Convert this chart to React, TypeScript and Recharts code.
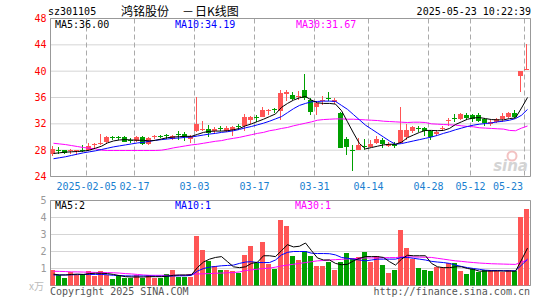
import React from 'react';
import { ComposedChart, Bar, Line, XAxis, YAxis, CartesianGrid, ReferenceArea } from 'recharts';

// trading days shown (2025)
const dates = [
  '01-20', '01-21', '01-22', '01-23', '01-24', '01-27',
  '02-05', '02-06', '02-07', '02-10', '02-11', '02-12', '02-13', '02-14', '02-17', '02-18', '02-19', '02-20',
  '02-21', '02-24', '02-25', '02-26', '02-27', '02-28',
  '03-03', '03-04', '03-05', '03-06', '03-07', '03-10', '03-11', '03-12', '03-13', '03-14', '03-17', '03-18',
  '03-19', '03-20', '03-21', '03-24', '03-25', '03-26', '03-27', '03-28', '03-31',
  '04-01', '04-02', '04-03', '04-07', '04-08', '04-09', '04-10', '04-11', '04-14', '04-15', '04-16', '04-17',
  '04-18', '04-21', '04-22', '04-23', '04-24', '04-25', '04-28', '04-29', '04-30',
  '05-06', '05-07', '05-08', '05-09', '05-12', '05-13', '05-14', '05-15', '05-16', '05-19', '05-20', '05-21',
  '05-22', '05-23',
];

const open = [
  27.45, 28.05, 27.95, 27.8, 27.85, 28.0, 28.1, 28.9, 29.0, 29.2,
  29.95, 29.95, 30.05, 29.55, 29.35, 30.05, 28.95, 30.1, 30.15, 30.25,
  29.7, 30.45, 30.45, 29.75, 30.85, 31.15, 31.25, 30.85, 31.3, 30.95,
  31.0, 31.65, 31.6, 32.6, 33.05, 33.1, 34.05, 34.2, 33.9, 36.5,
  36.4, 36.15, 37.15, 35.55, 34.6, 35.55, 35.85, 35.25, 33.7, 29.7,
  28.1, 28.05, 28.6, 28.55, 29.05, 29.55, 28.65, 28.95, 29.05, 29.95,
  30.85, 31.3, 31.35, 30.85, 30.5, 31.3, 32.45, 32.9, 32.8, 33.3,
  33.35, 33.35, 32.7, 32.0, 32.35, 32.7, 33.1, 33.6, 39.33, 40.2,
];
const close = [
  28.25, 27.95, 27.6, 28.0, 28.0, 27.9, 28.7, 29.0, 29.1, 29.95,
  29.85, 29.9, 29.3, 29.5, 30.05, 29.0, 29.85, 30.2, 30.05, 30.15,
  30.15, 30.35, 30.05, 30.2, 31.95, 31.25, 30.6, 31.2, 31.2, 31.35,
  31.45, 31.55, 33.0, 33.05, 32.95, 34.1, 34.15, 34.1, 36.65, 36.9,
  35.75, 36.25, 35.9, 33.8, 35.2, 35.65, 35.75, 35.55, 28.3, 28.45,
  28.0, 28.8, 28.55, 28.95, 29.75, 28.95, 28.95, 28.7, 31.0, 31.1,
  31.45, 31.2, 30.85, 30.0, 30.75, 31.4, 32.55, 32.8, 33.5, 32.85,
  32.8, 32.5, 32.1, 32.35, 32.7, 33.2, 33.7, 33.1, 39.95, 40.3,
];
const high = [
  28.6, 28.45, 28.0, 28.15, 28.1, 28.85, 29.1, 29.1, 30.4, 30.1,
  30.15, 30.2, 30.1, 29.85, 30.2, 30.1, 29.95, 30.3, 30.3, 30.4,
  30.3, 30.95, 30.8, 30.3, 36.05, 32.45, 31.85, 31.45, 31.6, 31.6,
  31.7, 31.9, 33.5, 33.15, 33.4, 34.6, 34.2, 34.45, 37.15, 37.2,
  36.9, 37.05, 39.6, 35.9, 35.5, 36.2, 36.85, 35.9, 33.8, 29.95,
  28.8, 29.8, 29.7, 29.55, 30.2, 29.8, 29.2, 29.3, 34.5, 32.0,
  31.7, 31.7, 31.5, 31.1, 31.1, 31.6, 32.85, 33.5, 33.6, 33.7,
  33.5, 33.6, 32.85, 32.6, 32.85, 33.7, 33.85, 34.1, 39.95, 44.15,
];
const low = [
  27.1, 27.45, 27.35, 27.35, 27.3, 27.75, 27.9, 28.4, 28.85, 29.1,
  29.5, 29.6, 29.25, 29.1, 29.2, 28.85, 28.8, 29.75, 29.9, 29.7,
  29.5, 29.6, 29.4, 29.15, 30.8, 30.85, 29.97, 30.6, 30.9, 30.7,
  30.2, 31.0, 30.85, 32.0, 32.35, 33.1, 33.35, 33.7, 32.6, 35.4,
  35.65, 35.55, 35.6, 33.4, 33.3, 34.9, 35.4, 34.95, 28.3, 27.2,
  24.9, 28.05, 28.0, 28.45, 28.95, 28.35, 28.45, 28.35, 29.05, 29.6,
  30.6, 30.7, 30.2, 29.5, 30.2, 30.85, 31.6, 32.3, 32.6, 32.6,
  32.35, 32.35, 31.6, 31.6, 32.1, 32.35, 32.85, 32.85, 36.9, 40.2,
];

const ma5 = [
  27.5, 27.6, 27.7, 27.75, 27.8, 27.85, 28.0, 28.3, 28.6, 29.1,
  29.4, 29.55, 29.6, 29.55, 29.5, 29.5, 29.4, 29.5, 29.7, 29.9,
  30.0, 30.05, 30.1, 30.1, 30.4, 30.7, 30.85, 30.9, 30.9, 30.95,
  31.1, 31.3, 31.7, 32.0, 32.35, 32.7, 33.1, 33.5, 34.5, 35.1,
  35.6, 35.95, 36.15, 35.6, 35.2, 35.1, 35.1, 35.0, 34.0, 32.3,
  30.6, 29.0, 28.2, 28.4, 28.6, 28.8, 28.9, 28.9, 29.2, 29.9,
  30.3, 30.7, 31.0, 31.0, 30.95, 31.0, 31.3, 31.9, 32.3, 32.7,
  32.9, 32.95, 32.8, 32.65, 32.6, 32.6, 32.8, 32.9, 34.4, 36.0,
];
const ma10 = [
  26.7, 26.85, 27.0, 27.2, 27.4, 27.6, 27.75, 27.9, 28.1, 28.3,
  28.5, 28.65, 28.8, 28.95, 29.1, 29.2, 29.35, 29.5, 29.6, 29.7,
  29.8, 29.85, 29.95, 30.0, 30.15, 30.3, 30.45, 30.55, 30.7, 30.8,
  30.95, 31.15, 31.4, 31.6, 31.85, 32.1, 32.4, 32.75, 33.1, 33.7,
  34.3, 34.8, 35.1, 35.35, 35.4, 35.45, 35.45, 35.4, 34.8, 34.2,
  33.4, 32.6, 31.8, 31.2, 30.6, 30.0, 29.4, 28.9, 29.0, 29.2,
  29.4, 29.6, 29.8, 30.0, 30.25, 30.55, 30.8, 31.1, 31.35, 31.6,
  31.8, 31.95, 32.05, 32.15, 32.3, 32.4, 32.55, 32.8, 33.3, 34.19,
];
const ma30 = [
  29.05, 28.95, 28.85, 28.7, 28.55, 28.4, 28.3, 28.2, 28.0, 27.95,
  27.95, 27.95, 27.95, 27.95, 27.95, 27.95, 27.95, 27.95, 28.0, 28.15,
  28.35, 28.5, 28.65, 28.8, 28.9, 29.05, 29.2, 29.35, 29.45, 29.65,
  29.8, 29.95, 30.15, 30.35, 30.55, 30.7, 30.95, 31.1, 31.3, 31.45,
  31.7, 31.9, 32.1, 32.3, 32.55, 32.65, 32.7, 32.75, 32.75, 32.7,
  32.7, 32.65, 32.6, 32.55, 32.5, 32.4, 32.35, 32.3, 32.25, 32.2,
  32.25, 32.25, 32.2, 32.0, 31.95, 31.9, 31.85, 31.8, 31.7, 31.6,
  31.55, 31.4, 31.35, 31.3, 31.25, 31.2, 31.0, 30.95, 31.35, 31.67,
];

// volume, in 万
const volume = [
  0.9, 0.6, 0.47, 0.8, 0.6, 0.7, 0.85, 0.56, 0.85, 0.6,
  0.41, 0.6, 0.45, 0.45, 0.6, 0.45, 0.6, 0.45, 0.45, 0.66,
  0.9, 0.48, 0.48, 0.48, 2.92, 2.08, 1.45, 1.15, 0.9, 0.9,
  0.85, 0.76, 1.78, 2.31, 1.3, 2.57, 1.28, 1.0, 3.84, 3.49,
  1.73, 1.49, 2.03, 1.73, 1.15, 1.15, 1.39, 0.9, 1.39, 1.89,
  1.61, 1.68, 1.98, 1.39, 1.72, 1.2, 0.75, 0.9, 3.25, 2.21,
  1.55, 1.04, 0.94, 0.85, 1.1, 1.1, 1.31, 1.3, 0.85, 0.7,
  0.98, 0.8, 0.92, 0.9, 0.87, 0.77, 0.9, 0.85, 4.04, 4.5,
];
const volMa5 = [
  0.67, 0.62, 0.62, 0.65, 0.67, 0.65, 0.7, 0.72, 0.72, 0.7,
  0.65, 0.58, 0.52, 0.5, 0.5, 0.5, 0.52, 0.52, 0.52, 0.55,
  0.6, 0.62, 0.62, 0.63, 1.06, 1.38, 1.55, 1.65, 1.7, 1.4,
  1.1, 1.05, 1.1, 1.3, 1.37, 1.75, 1.75, 1.7, 2.05, 2.4,
  2.27, 2.31, 2.5, 2.05, 1.62, 1.5, 1.5, 1.3, 1.22, 1.25,
  1.45, 1.6, 1.7, 1.7, 1.7, 1.65, 1.4, 1.2, 1.55, 1.78,
  1.75, 1.75, 1.75, 1.3, 1.1, 1.05, 1.05, 1.1, 1.1, 1.0,
  0.95, 0.84, 0.85, 0.85, 0.86, 0.85, 0.85, 0.84, 1.5, 2.2,
];
const volMa10 = [
  0.62, 0.62, 0.62, 0.63, 0.64, 0.65, 0.65, 0.65, 0.65, 0.63,
  0.6, 0.58, 0.57, 0.56, 0.56, 0.56, 0.56, 0.55, 0.55, 0.55,
  0.56, 0.57, 0.57, 0.6, 0.85, 1.0, 1.08, 1.12, 1.16, 1.18,
  1.2, 1.3, 1.38, 1.4, 1.35, 1.35, 1.35, 1.5, 1.8, 1.95,
  2.0, 2.0, 2.0, 1.9, 1.88, 1.88, 1.87, 1.8, 1.65, 1.6,
  1.55, 1.5, 1.45, 1.5, 1.55, 1.55, 1.55, 1.55, 1.65, 1.65,
  1.6, 1.55, 1.5, 1.42, 1.38, 1.35, 1.3, 1.2, 1.12, 1.05,
  1.0, 0.95, 0.9, 0.88, 0.88, 0.87, 0.87, 0.87, 1.2, 1.55,
];
const volMa30 = [
  0.84, 0.83, 0.82, 0.8, 0.8, 0.79, 0.78, 0.77, 0.76, 0.76,
  0.75, 0.73, 0.7, 0.68, 0.65, 0.62, 0.6, 0.6, 0.6, 0.6,
  0.6, 0.6, 0.6, 0.66, 0.68, 0.69, 0.7, 0.72, 0.73, 0.75,
  0.76, 0.8, 0.88, 0.92, 0.96, 1.0, 1.02, 1.08, 1.15, 1.2,
  1.25, 1.3, 1.35, 1.4, 1.45, 1.47, 1.5, 1.52, 1.54, 1.56,
  1.58, 1.6, 1.62, 1.62, 1.63, 1.63, 1.64, 1.64, 1.68, 1.68,
  1.68, 1.67, 1.66, 1.65, 1.6, 1.55, 1.5, 1.45, 1.42, 1.38,
  1.35, 1.32, 1.3, 1.28, 1.27, 1.26, 1.25, 1.24, 1.38, 1.5,
];

const tickDates = ['02-05', '02-17', '03-03', '03-17', '03-31', '04-14', '04-28', '05-12', '05-23'];
const tickLabels = ['2025-02-05', '02-17', '03-03', '03-17', '03-31', '04-14', '04-28', '05-12', '05-23'];
const priceTicks = [24, 28, 32, 36, 40, 44, 48];
const volTicks = [1, 2, 3, 4, 5];

const UP = '#ff5555';
const DOWN = '#00a000';
const GRID = '#aaaaaa';
const MONO = "'DejaVu Sans Mono', monospace";
const CJK = "'Noto Sans CJK SC', sans-serif";

const tickX = tickDates.map((d) => dates.indexOf(d));

const rows = dates.map((d, i) => ({
  x: i + 0.5,
  date: d,
  open: open[i],
  high: high[i],
  low: low[i],
  close: close[i],
  range: [low[i], high[i]],
  ma5: ma5[i],
  ma10: ma10[i],
  ma30: ma30[i],
  vol: volume[i],
  vma5: volMa5[i],
  vma10: volMa10[i],
  vma30: volMa30[i],
}));

// candle sits in the left 5px of its 6px slot
const Candle = (props: any) => {
  const { x, y, width, height, payload } = props;
  if (!payload) return null;
  const { open: o, close: c, high: h, low: l } = payload;
  const color = c >= o ? UP : DOWN;
  const left = Math.floor(x + width / 2 - 3);
  const wick = left + 2.5;
  const px = (v: number) => y + ((h - v) / (h - l)) * height;
  const top = Math.round(px(Math.max(o, c)));
  const bottom = Math.round(px(Math.min(o, c)));
  return (
    <g shapeRendering="crispEdges">
      <line x1={wick} x2={wick} y1={Math.round(y)} y2={Math.round(y + height)} stroke={color} />
      <rect x={left} y={top} width={5} height={Math.max(1, bottom - top)} fill={color} />
    </g>
  );
};

const VolBar = (props: any) => {
  const { x, y, width, height, payload } = props;
  if (!payload) return null;
  const left = Math.floor(x + width / 2 - 3);
  const color = payload.close >= payload.open ? UP : DOWN;
  const top = Math.round(y);
  return (
    <rect x={left} y={top} width={5} height={Math.round(y + height) - top} fill={color} shapeRendering="crispEdges" />
  );
};

const DateTick = (props: any) => {
  const { x, y, index } = props;
  const last = index === tickLabels.length - 1;
  return (
    <text
      x={x}
      y={y + 13}
      dx={last ? -1.5 : 0}
      textAnchor={last ? 'end' : 'middle'}
      fill="#1a80d0"
      fontSize={10}
      fontFamily={MONO}
    >
      {tickLabels[index]}
    </text>
  );
};

const txt = { fontSize: 10, fontFamily: MONO };

export default function App() {
  return (
    <div style={{ position: 'absolute', left: 0, top: 0, width: 545, height: 300, background: '#fff' }}>
      <div style={{ position: 'absolute', left: 0, top: 0 }}>
        <ComposedChart width={545} height={195} data={rows} margin={{ top: 18.5, right: 14.5, bottom: 0, left: 0.5 }}>
          <CartesianGrid horizontal vertical={false} stroke={GRID} strokeDasharray="1 1" />
          <CartesianGrid horizontal={false} vertical stroke={GRID} strokeDasharray="5 3" />
          <XAxis
            type="number"
            dataKey="x"
            domain={[0, 80]}
            ticks={tickX}
            interval={0}
            allowDataOverflow
            axisLine={false}
            tickLine={false}
            tickSize={0}
            tickMargin={0}
            height={18.5}
            tick={<DateTick />}
          />
          <YAxis
            domain={[24, 48]}
            ticks={priceTicks}
            interval={0}
            allowDataOverflow
            axisLine={false}
            tickLine={false}
            tickSize={0}
            tickMargin={4}
            width={50}
            tick={{ fill: '#ff0000', ...txt }}
          />
          <ReferenceArea x1={0} x2={80} y1={24} y2={48} fill="none" stroke="#999" ifOverflow="visible" />
          <Bar dataKey="range" barSize={5} shape={<Candle />} isAnimationActive={false} />
          <Line dataKey="ma30" stroke="#ff00ff" strokeWidth={1} dot={false} isAnimationActive={false} />
          <Line dataKey="ma10" stroke="#0000ff" strokeWidth={1} dot={false} isAnimationActive={false} />
          <Line dataKey="ma5" stroke="#000000" strokeWidth={1} dot={false} isAnimationActive={false} />
        </ComposedChart>
      </div>
      <div style={{ position: 'absolute', left: 0, top: 190 }}>
        <ComposedChart width={545} height={110} data={rows} margin={{ top: 10.5, right: 14.5, bottom: 0, left: 0.5 }}>
          <CartesianGrid horizontal vertical={false} stroke={GRID} strokeDasharray="1 1" />
          <CartesianGrid horizontal={false} vertical stroke={GRID} strokeDasharray="5 3" />
          <XAxis
            type="number"
            dataKey="x"
            domain={[0, 80]}
            ticks={tickX}
            interval={0}
            allowDataOverflow
            axisLine={false}
            tickLine={false}
            tick={false}
            height={14.5}
          />
          <YAxis
            domain={[0, 5]}
            ticks={volTicks}
            interval={0}
            allowDataOverflow
            axisLine={false}
            tickLine={false}
            tickSize={0}
            tickMargin={4}
            width={50}
            tick={{ fill: '#999999', ...txt }}
          />
          <ReferenceArea x1={0} x2={80} y1={0} y2={5} fill="none" stroke="#999" ifOverflow="visible" />
          <Bar dataKey="vol" barSize={5} shape={<VolBar />} isAnimationActive={false} />
          <Line dataKey="vma30" stroke="#ff00ff" strokeWidth={1} dot={false} isAnimationActive={false} />
          <Line dataKey="vma10" stroke="#0000ff" strokeWidth={1} dot={false} isAnimationActive={false} />
          <Line dataKey="vma5" stroke="#000000" strokeWidth={1} dot={false} isAnimationActive={false} />
        </ComposedChart>
      </div>
      <svg width={545} height={300} style={{ position: 'absolute', left: 0, top: 0, pointerEvents: 'none' }}>
        <text x={48} y={15} fill="#000" {...txt}>sz301105</text>
        <text x={121} y={16} fill="#000" fontSize={12} fontFamily={CJK}>鸿铭股份</text>
        <text x={182} y={16} fill="#000" fontSize={12} fontFamily={CJK}>－</text>
        <text x={195} y={16} fill="#000" fontSize={12} fontFamily={CJK}>日K线图</text>
        <text x={531} y={15} textAnchor="end" fill="#000" {...txt}>2025-05-23 10:22:39</text>
        <text x={55} y={28} fill="#000" {...txt}>MA5:36.00</text>
        <text x={175} y={28} fill="#0000ff" {...txt}>MA10:34.19</text>
        <text x={296} y={28} fill="#ff00ff" {...txt}>MA30:31.67</text>
        <circle cx={512} cy={156} r={4.5} fill="none" stroke="#f3c2c2" strokeWidth={2} />
        <text x={528} y={171} textAnchor="end" fill="#d4d4d4" fontSize={15} fontStyle="italic" fontWeight="bold" fontFamily="'DejaVu Sans', sans-serif">sina</text>
        <text x={55} y={209} fill="#000" {...txt}>MA5:2</text>
        <text x={175} y={209} fill="#0000ff" {...txt}>MA10:1</text>
        <text x={295} y={209} fill="#ff00ff" {...txt}>MA30:1</text>
        <text x={44} y={290} textAnchor="end" fill="#bbbbbb" fontSize={10} fontFamily={CJK}>x万</text>
        <text x={50} y={295} fill="#555" {...txt}>Copyright 2025 SINA.COM</text>
        <text x={530} y={295} textAnchor="end" fill="#555" {...txt}>http://finance.sina.com.cn</text>
      </svg>
    </div>
  );
}
